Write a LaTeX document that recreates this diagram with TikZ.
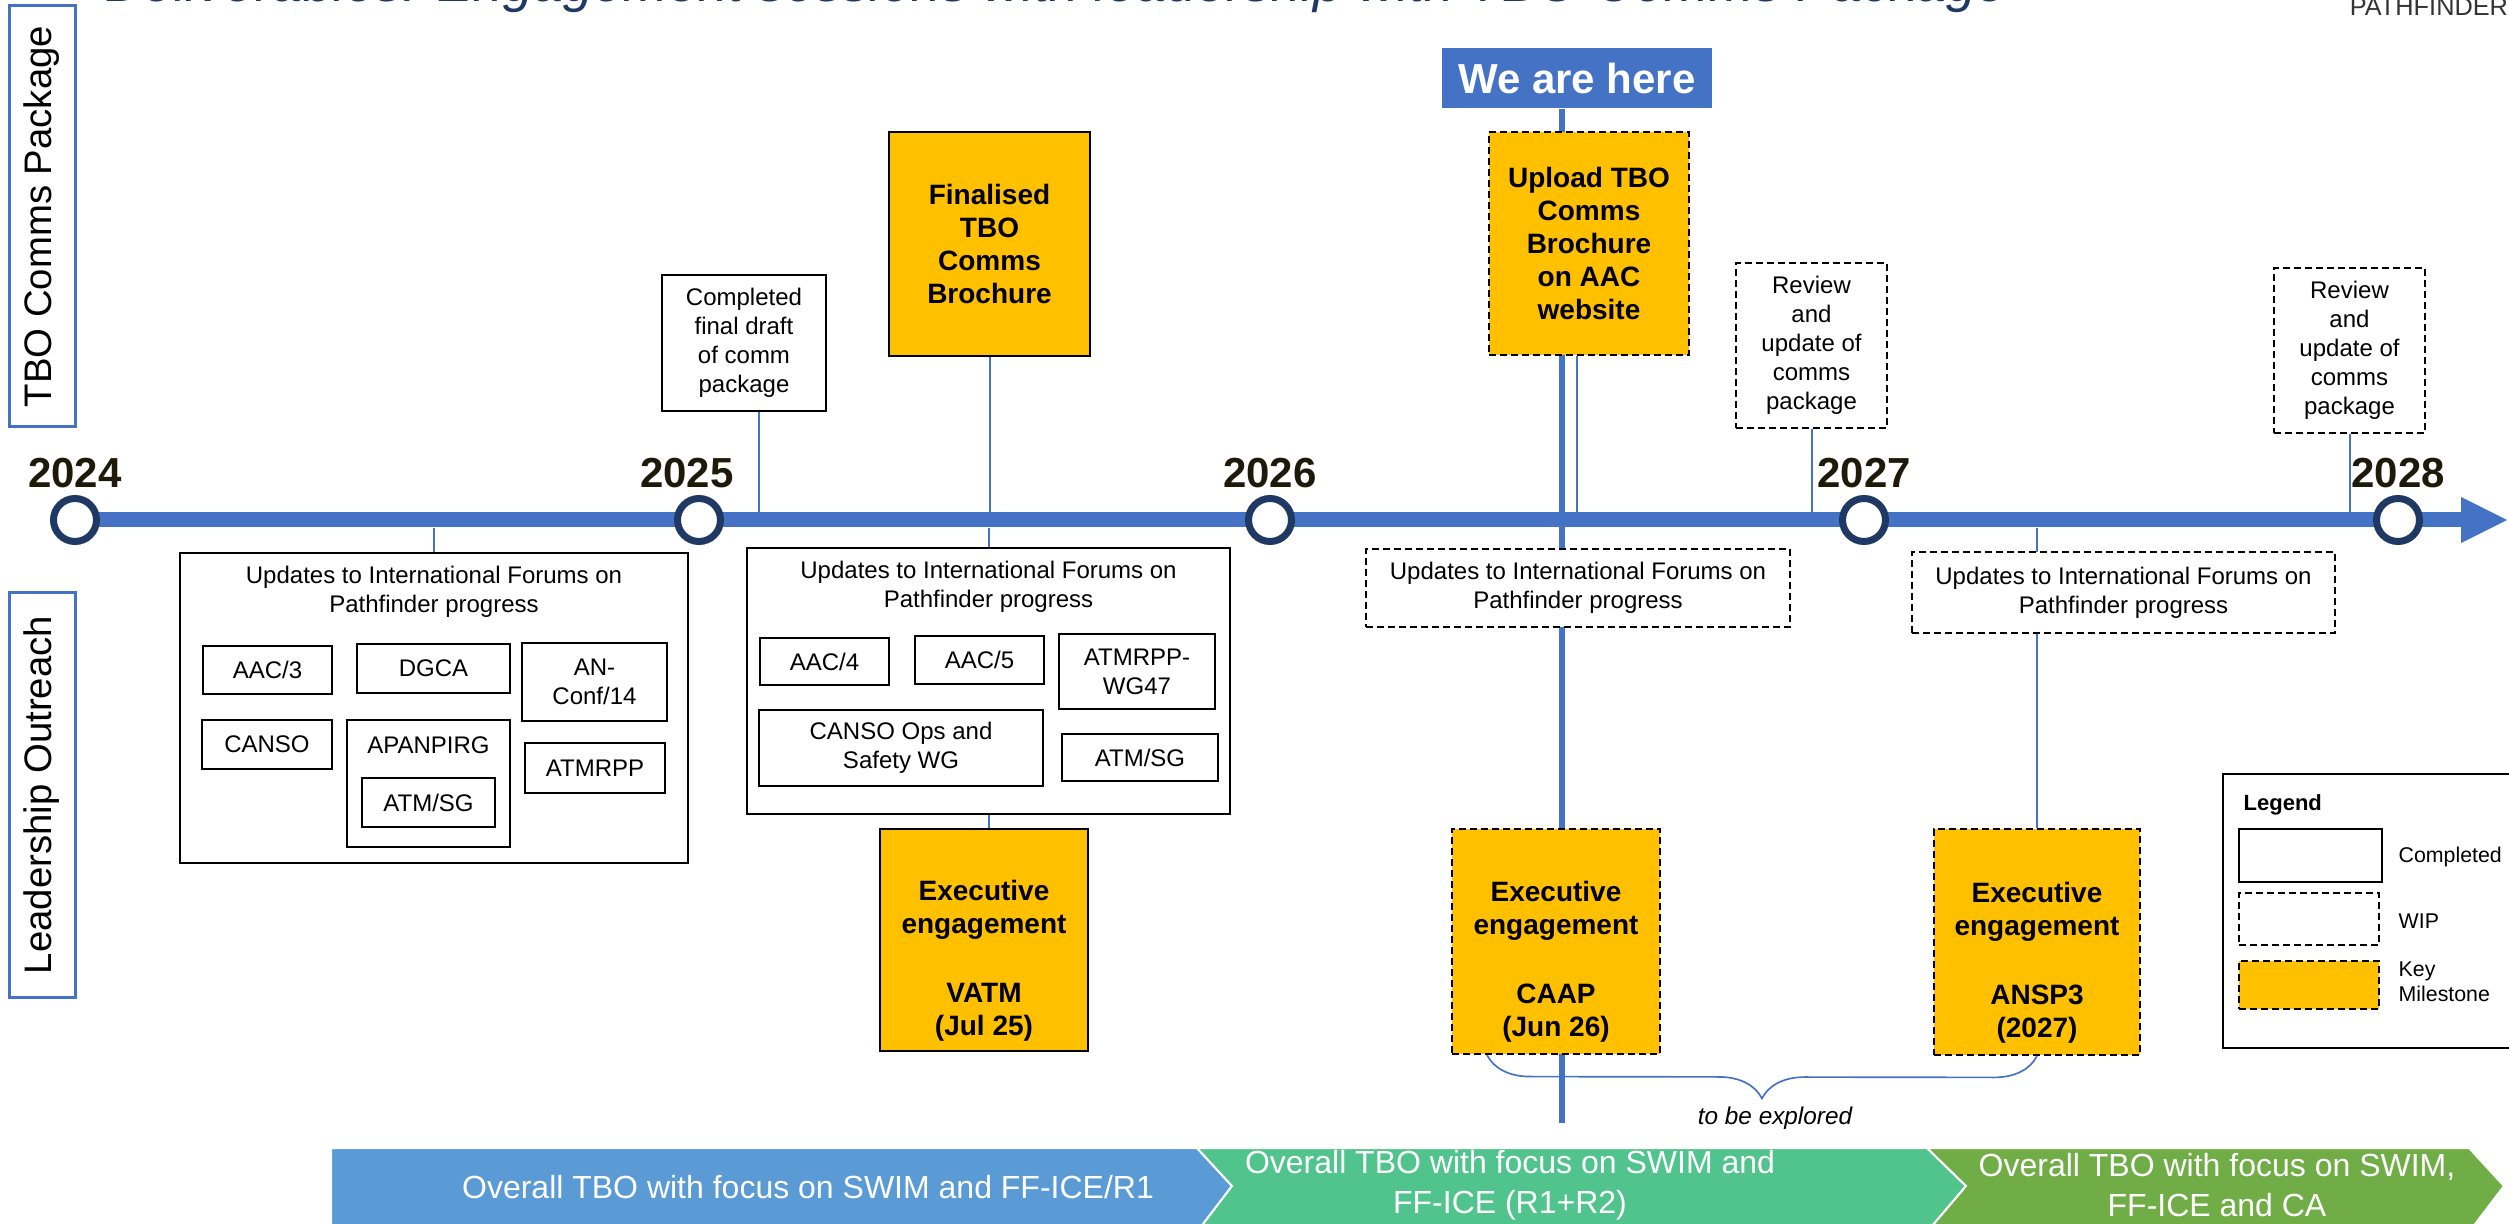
\documentclass[tikz,border=0pt]{standalone}
\usepackage{fontspec}
\setmainfont{Liberation Sans}
\usetikzlibrary{decorations.pathreplacing}

\definecolor{tlblue}{RGB}{68,114,196}
\definecolor{ringnavy}{RGB}{31,56,100}
\definecolor{keygold}{RGB}{255,192,0}
\definecolor{yeartext}{RGB}{30,26,10}
\definecolor{chevblue}{RGB}{91,155,213}
\definecolor{chevmint}{RGB}{80,196,140}
\definecolor{chevgreen}{RGB}{112,173,71}
\definecolor{titleblue}{RGB}{31,56,100}

\pgfdeclarelayer{bg}
\pgfsetlayers{bg,main}

\tikzset{every picture/.style={line width=0.6pt}}
\tikzset{
  wh/.style 2 args={minimum width=#1*0.3pt, minimum height=#2*0.3pt},
  donebox/.style={draw=black, fill=white, inner sep=0pt, align=center, font=\fontsize{7.2}{8.7}\selectfont},
  wipbox/.style={donebox, dash pattern=on 2pt off 1.3pt},
  keydone/.style={donebox, fill=keygold, font=\fontsize{8.4}{9.9}\selectfont\bfseries},
  keywip/.style={keydone, dash pattern=on 2pt off 1.3pt},
  sidebox/.style={draw=tlblue, line width=0.9pt, rotate=90, inner sep=0pt, font=\fontsize{11.5}{13}\selectfont},
  ring/.style={circle, draw=ringnavy, line width=2.1pt, fill=white, minimum size=12.9pt, inner sep=0pt},
  yearlbl/.style={anchor=base, inner sep=0pt, text=yeartext, font=\fontsize{12.6}{14}\selectfont\bfseries},
  bar/.style={draw=tlblue, line width=4.5pt},
  link/.style={draw=tlblue, line width=0.6pt},
  nowline/.style={draw=tlblue, line width=1.8pt},
  chev/.style={draw=white, line width=0.6pt},
  chevtext/.style={text=white, align=center, inner sep=0pt, font=\fontsize{9.6}{12}\selectfont},
  legtext/.style={anchor=west, align=left, inner sep=0pt, font=\fontsize{6.4}{7.5}\selectfont},
  bracket/.style={draw=tlblue, line width=0.5pt, decorate, decoration={brace, mirror, amplitude=12.9pt}},
}

\begin{document}
\begin{tikzpicture}[x=0.3pt,y=0.3pt,yscale=-1,xscale=1]
\useasboundingbox (0,0) rectangle (2509,1224);

% Text Node: heading, cut by the page edge
\node (title) [anchor=base west, inner sep=0pt, text=titleblue, font=\fontsize{16.2}{18}\selectfont\itshape] at (104,2) {Deliverables: Engagement sessions with leadership with TBO Comms Package};
\node (brand) [anchor=base east, inner sep=0pt, text=black!80, font=\fontsize{7.6}{9}\selectfont] at (2509,16) {PATHFINDER};

%Shape: side labels
\node (sidecomms) [sidebox, wh={421}{66}] at (42,216.5) {TBO Comms Package};
\node (sideout) [sidebox, wh={404}{66}] at (42,795) {Leadership Outreach};

%Shape: year rings
\node (y2024) [ring] at (75,520) {};
\node (y2025) [ring] at (699,520) {};
\node (y2026) [ring] at (1270,520) {};
\node (y2027) [ring] at (1864,520) {};
\node (y2028) [ring] at (2398,520) {};
\coordinate (tip) at (2461,520);
\coordinate (bt) at (0,513);
\coordinate (bb) at (0,528);
\coordinate (now) at (1562,1123);

% Text Node
\node (t2024) [yearlbl] at (75,488) {2024};
\node (t2025) [yearlbl] at (687,488) {2025};
\node (t2026) [yearlbl] at (1270,488) {2026};
\node (t2027) [yearlbl] at (1864,488) {2027};
\node (t2028) [yearlbl] at (2398,488) {2028};

%Shape: We are here
\node (here) [fill=tlblue, text=white, inner sep=0pt, wh={270}{60}, font=\fontsize{12.6}{14}\selectfont\bfseries] at (1577,78) {We are here};

%Shape: boxes above the line
\node (draft) [donebox, wh={164}{136}] at (744,343) {Completed\\final draft\\of comm\\package};
\node (final) [keydone, wh={201}{224}] at (989.5,244) {Finalised\\TBO\\Comms\\Brochure};
\node (upload) [keywip, wh={200}{223}] at (1589,243.5) {Upload TBO\\Comms\\Brochure\\on AAC\\website};
\node (review1) [wipbox, wh={151}{165}] at (1811.5,345.5) {Review\\and\\update of\\comms\\package};
\node (review2) [wipbox, wh={151}{165}] at (2349.5,350.5) {Review\\and\\update of\\comms\\package};

%Shape: forums 2024-2025
\node (upd1) [donebox, wh={508}{310}] at (434,708) {};
\node (upd1title) [align=center, inner sep=0pt, font=\fontsize{7.2}{8.7}\selectfont] at (434,592) {Updates to International Forums on\\Pathfinder progress};
\node (aac3) [donebox, wh={129}{48}] at (267.5,670) {AAC/3};
\node (dgca) [donebox, wh={153}{49}] at (433.5,668.5) {DGCA};
\node (anconf) [donebox, wh={145}{78}] at (594.5,682) {AN-\\Conf/14};
\node (canso) [donebox, wh={130}{49}] at (267,744.5) {CANSO};
\node (apanpirg) [donebox, wh={163}{127}] at (428.5,783.5) {};
\node (apantext) [inner sep=0pt, font=\fontsize{7.2}{8.7}\selectfont] at (428.5,745) {APANPIRG};
\node (atmsg1) [donebox, wh={133}{49}] at (428.5,802.5) {ATM/SG};
\node (atmrpp) [donebox, wh={140}{50}] at (595,768) {ATMRPP};

%Shape: forums 2025-2026
\node (upd2) [donebox, wh={483}{266}] at (988.5,681) {};
\node (upd2title) [align=center, inner sep=0pt, font=\fontsize{7.2}{8.7}\selectfont] at (988.5,587) {Updates to International Forums on\\Pathfinder progress};
\node (aac4) [donebox, wh={129}{47}] at (824.5,661.5) {AAC/4};
\node (aac5) [donebox, wh={129}{48}] at (979.5,660) {AAC/5};
\node (wg47) [donebox, wh={156}{75}] at (1137,671.5) {ATMRPP-\\WG47};
\node (cansoops) [donebox, wh={284}{76}] at (901,748) {CANSO Ops and\\Safety WG};
\node (atmsg2) [donebox, wh={156}{47}] at (1140,757.5) {ATM/SG};
\node (vatm) [keydone, wh={208}{222}] at (984,940) {\mbox{}\\[8.4pt]Executive\\engagement\\[10.8pt]VATM\\(Jul 25)};

%Shape: forums 2026-2028
\node (upd3) [wipbox, wh={424}{78}] at (1578,588) {Updates to International Forums on\\Pathfinder progress};
\node (upd4) [wipbox, wh={423}{81}] at (2123.5,592.5) {Updates to International Forums on\\Pathfinder progress};
\node (caap) [keywip, wh={208}{225}] at (1556,941.5) {\mbox{}\\[8.4pt]Executive\\engagement\\[10.8pt]CAAP\\(Jun 26)};
\node (ansp3) [keywip, wh={206}{226}] at (2037,942) {\mbox{}\\[8.4pt]Executive\\engagement\\[10.8pt]ANSP3\\(2027)};

%Straight Lines: timeline and links
\begin{pgfonlayer}{bg}
\draw[bar] (y2024.center) -- (tip);
\fill[tlblue] (2461,497) -- (2507,520) -- (2461,543) -- cycle;
\draw[nowline] (here.south -| now) -- (now);
\draw[link] (upload.south -| here.south) -- (here.south |- bt);
\draw[link] (draft.south -| 759,0) -- (759,0 |- bt);
\draw[link] (final.south) -- (final.south |- bt);
\draw[link] (review1.south) -- (review1.south |- bt);
\draw[link] (review2.south) -- (review2.south |- bt);
\draw[link] (upd1.north) -- (upd1.north |- bb);
\draw[link] (upd2.north) -- (upd2.north |- bb);
\draw[link] (upd2.south) -- (upd2.south |- vatm.north);
\draw[link] (ansp3.north) -- (ansp3.north |- bb);
\end{pgfonlayer}

%Curve Lines: brace
\draw[bracket] ([xshift=10.8pt]caap.south west) -- (ansp3.south);
\node (explore) [inner sep=0pt, font=\fontsize{7.3}{9}\selectfont\itshape] at (1775,1118) {to be explored};

%Shape: legend
\node (legend) [draw=black, line width=0.8pt, inner sep=0pt, wh={310}{274}] at (2378,911) {};
\node (legtitle) [legtext, font=\fontsize{6.6}{8}\selectfont\bfseries] at (2243,805) {Legend};
\node (legdone) [donebox, wh={143}{53}] at (2310.5,855.5) {};
\node (legwip) [wipbox, wh={140}{52}] at (2309,919) {};
\node (legkey) [keywip, wh={140}{48}] at (2309,985) {};
\node (legdonetxt) [legtext] at (2398,857) {Completed};
\node (legwiptxt) [legtext] at (2398,921) {WIP};
\node (legkeytxt) [legtext] at (2398,982) {Key\\Milestone};

%Shape: phase chevrons
\path[chev, fill=chevblue] (331,1148) -- (1197,1148) -- (1232,1186) -- (1197,1232) -- (331,1232) -- cycle;
\path[chev, fill=chevmint] (1197,1148) -- (1927,1148) -- (1966,1186) -- (1927,1232) -- (1197,1232) -- (1232,1186) -- cycle;
\path[chev, fill=chevgreen] (1927,1148) -- (2469,1148) -- (2504,1186) -- (2469,1232) -- (1927,1232) -- (1966,1186) -- cycle;
\node (ch1) [chevtext] at (808,1187) {Overall TBO with focus on SWIM and FF-ICE/R1};
\node (ch2) [chevtext] at (1510,1185) {Overall TBO with focus on SWIM and\\FF-ICE (R1+R2)};
\node (ch3) [chevtext] at (2217,1185) {Overall TBO with focus on SWIM,\\FF-ICE and CA};

\end{tikzpicture}
\end{document}
